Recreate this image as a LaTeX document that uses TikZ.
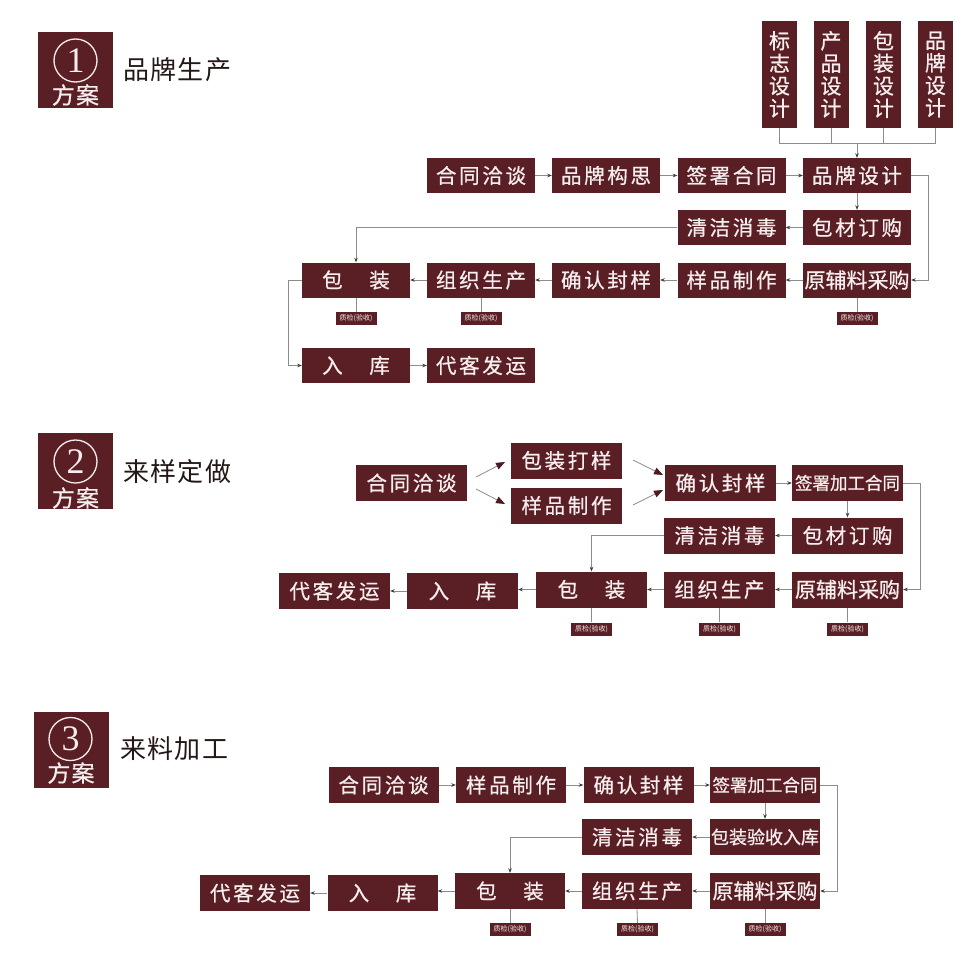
\documentclass[tikz,border=0pt]{standalone}
\usepackage{fontspec}
\setmainfont{Noto Sans CJK SC}
\newfontfamily\boxfont[LetterSpace=13,FakeBold=0.7]{Noto Sans CJK SC}
\newfontfamily\boxfontB[FakeBold=0.7]{Noto Sans CJK SC}
\newfontfamily\titlefont[LetterSpace=5]{Noto Sans CJK SC}
\newfontfamily\fafont[LetterSpace=5,FakeBold=0.7]{Noto Sans CJK SC}
\newfontfamily\numfont{Liberation Serif}
\usetikzlibrary{arrows.meta,calc}
\definecolor{boxc}{HTML}{5A1F24}
\definecolor{linec}{HTML}{8C8C8C}
\definecolor{tipc}{HTML}{3A3A3A}
\definecolor{titlec}{HTML}{231815}
\definecolor{txtc}{HTML}{F6EEEE}
\tikzset{
  box/.style={fill=boxc,text=txtc,inner sep=0pt,minimum width=108pt,minimum height=35pt,font=\boxfont\fontsize{20.5}{22}\selectfont},
  wide2/.style={minimum width=111pt,minimum height=36pt},
  wide3/.style={minimum width=110pt,minimum height=36pt},
  tight/.style={font=\boxfontB\fontsize{21}{22}\selectfont},
  six/.style={font=\boxfontB\fontsize{17.5}{19}\selectfont},
  qc/.style={fill=boxc,text=txtc,minimum width=41pt,minimum height=13pt,inner sep=0pt,font=\fontsize{7}{7}\selectfont},
  vbox/.style={fill=boxc,text=txtc,minimum width=35pt,minimum height=107pt,inner sep=0pt,align=center,font=\boxfontB\fontsize{21}{22.5}\selectfont},
  badge/.style={fill=boxc,minimum width=75pt,minimum height=76pt,inner sep=0pt},
  ring/.style={circle,draw=txtc,line width=1.3pt,minimum size=43pt,inner sep=0pt,text=txtc,font=\numfont\fontsize{36}{36}\selectfont},
  fangan/.style={text=txtc,inner sep=0pt,font=\fafont\fontsize{23}{23}\selectfont},
  title/.style={anchor=west,text=titlec,inner sep=0pt,font=\titlefont\fontsize{26}{26}\selectfont},
  conn/.style={draw=linec,line width=0.8pt,-{Stealth[length=4.5pt,width=3.5pt,color=tipc]}},
  plain/.style={draw=linec,line width=0.8pt},
  bigarrow/.style={draw=linec,line width=0.8pt,-{Triangle[length=9pt,width=7pt,color=boxc!85!black]}}
}
\begin{document}
\begin{tikzpicture}[x=1pt,y=-1pt]
\useasboundingbox (0,0) rectangle (970,964);
\fill[white] (0,0) rectangle (970,964);

% ================= Scheme 1 =================
\node[badge] (b1) at (75.5,70) {};
\node[ring] (r1) at (75.5,60.5) {1};
\node[fangan] (f1) at (75.5,95) {方案};
\node[title] (t1) at (123,70) {品牌生产};

\node[vbox] (v1) at (779.5,74.5) {标\\志\\设\\计};
\node[vbox] (v2) at (831,74.5) {产\\品\\设\\计};
\node[vbox] (v3) at (883.5,74.5) {包\\装\\设\\计};
\node[vbox] (v4) at (935.5,74.5) {品\\牌\\设\\计};
\coordinate (bar1) at (857,143);

\node[box] (a1) at (481,175.5) {合同洽谈};
\node[box] (a2) at (606,175.5) {品牌构思};
\node[box] (a3) at (731.5,175.5) {签署合同};
\node[box] (a4) at (857,175.5) {品牌设计};
\node[box] (a5) at (857,227.5) {包材订购};
\node[box] (a6) at (731.5,227.5) {清洁消毒};
\node[box,tight] (a7) at (857,280) {原辅料采购};
\node[box] (a8) at (731.5,280) {样品制作};
\node[box] (a9) at (606,280) {确认封样};
\node[box] (a10) at (481,280) {组织生产};
\node[box] (a11) at (356,280) {包\hspace{1.3em}装};
\node[box] (a12) at (356,365.5) {入\hspace{1.3em}库};
\node[box] (a13) at (481,365.5) {代客发运};
\node[qc] (q1) at (356,318.5) {质检(验收)};
\node[qc] (q2) at (481,318.5) {质检(验收)};
\node[qc] (q3) at (857,318.5) {质检(验收)};

\draw[plain] (v1.south) |- (v4.south |- bar1) -- (v4.south);
\draw[plain] (v2.south) -- (v2.south |- bar1);
\draw[plain] (v3.south) -- (v3.south |- bar1);
\draw[conn] (bar1) -- (a4.north);
\draw[conn] (a1) -- (a2);
\draw[conn] (a2) -- (a3);
\draw[conn] (a3) -- (a4);
\draw[conn] (a4) -- (a5);
\draw[conn] (a5) -- (a6);
\draw[conn] (a6.west) -| (a11.north);
\draw[conn] (a4.east) -- ++(17,0) |- (a7.east);
\draw[conn] (a7) -- (a8);
\draw[conn] (a8) -- (a9);
\draw[conn] (a9) -- (a10);
\draw[conn] (a10) -- (a11);
\draw[conn] (a11.west) -- ++(-13,0) |- (a12.west);
\draw[conn] (a12) -- (a13);
\draw[plain] (a11.south) -- (q1.north);
\draw[plain] (a10.south) -- (q2.north);
\draw[plain] (a7.south) -- (q3.north);

% ================= Scheme 2 =================
\node[badge] (b2) at (75.5,471) {};
\node[ring] (r2) at (75.5,461.5) {2};
\node[fangan] (f2) at (75.5,498) {方案};
\node[title] (t2) at (123,472) {来样定做};

\node[box,wide2] (c1) at (411.5,483) {合同洽谈};
\node[box,wide2] (c2) at (566.5,460.5) {包装打样};
\node[box,wide2] (c3) at (566.5,505.5) {样品制作};
\node[box,wide2] (c4) at (720.5,483) {确认封样};
\node[box,wide2,six] (c5) at (847.5,483) {签署加工合同};
\node[box,wide2] (c6) at (847.5,535.5) {包材订购};
\node[box,wide2] (c7) at (719.5,535.5) {清洁消毒};
\node[box,wide2,tight] (c8) at (847.5,589.5) {原辅料采购};
\node[box,wide2] (c9) at (719.5,589.5) {组织生产};
\node[box,wide2] (c10) at (591.5,589.5) {包\hspace{1.3em}装};
\node[box,wide2] (c11) at (462.5,591) {入\hspace{1.3em}库};
\node[box,wide2] (c12) at (334.5,591) {代客发运};
\node[qc] (p1) at (591.5,629) {质检(验收)};
\node[qc] (p2) at (719.5,629) {质检(验收)};
\node[qc] (p3) at (847.5,629) {质检(验收)};

\coordinate (d1s) at (476,477);
\coordinate (d1e) at (505,462);
\coordinate (d2s) at (476,489);
\coordinate (d2e) at (505,504);
\coordinate (d3s) at (633,460);
\coordinate (d3e) at (663,475);
\coordinate (d4s) at (633,505);
\coordinate (d4e) at (663,490);
\draw[bigarrow] (d1s) -- (d1e);
\draw[bigarrow] (d2s) -- (d2e);
\draw[bigarrow] (d3s) -- (d3e);
\draw[bigarrow] (d4s) -- (d4e);

\draw[conn] (c4) -- (c5);
\draw[conn] (c5) -- (c6);
\draw[conn] (c6) -- (c7);
\draw[conn] (c7.west) -| (c10.north);
\draw[conn] (c5.east) -- ++(17,0) |- (c8.east);
\draw[conn] (c8) -- (c9);
\draw[conn] (c9) -- (c10);
\draw[conn] (c10.west) -- (c11.east |- c10.west);
\draw[conn] (c11) -- (c12);
\draw[plain] (c10.south) -- (p1.north);
\draw[plain] (c9.south) -- (p2.north);
\draw[plain] (c8.south) -- (p3.north);

% ================= Scheme 3 =================
\node[badge] (b3) at (71,749.5) {};
\node[ring] (r3) at (70.5,739) {3};
\node[fangan] (f3) at (71,773) {方案};
\node[title] (t3) at (120,749) {来料加工};

\node[box,wide3] (e1) at (383.5,785) {合同洽谈};
\node[box,wide3] (e2) at (511,785) {样品制作};
\node[box,wide3] (e3) at (638.5,785) {确认封样};
\node[box,wide3,six] (e4) at (765,785) {签署加工合同};
\node[box,wide3,six,font=\boxfontB\fontsize{18}{19}\selectfont] (e5) at (765,837) {包装验收入库};
\node[box,wide3] (e6) at (637,837) {清洁消毒};
\node[box,wide3,tight] (e7) at (765,891) {原辅料采购};
\node[box,wide3] (e8) at (637,891) {组织生产};
\node[box,wide3] (e9) at (510,891) {包\hspace{1.3em}装};
\node[box,wide3] (e10) at (382.5,893) {入\hspace{1.3em}库};
\node[box,wide3] (e11) at (255,893) {代客发运};
\node[qc] (s1) at (510,929.5) {质检(验收)};
\node[qc] (s2) at (637.5,929.5) {质检(验收)};
\node[qc] (s3) at (765,929.5) {质检(验收)};

\draw[conn] (e1) -- (e2);
\draw[conn] (e2) -- (e3);
\draw[conn] (e3) -- (e4);
\draw[conn] (e4) -- (e5);
\draw[conn] (e5) -- (e6);
\draw[conn] (e6.west) -| (e9.north);
\draw[conn] (e4.east) -- ++(17,0) |- (e7.east);
\draw[conn] (e7) -- (e8);
\draw[conn] (e8) -- (e9);
\draw[conn] (e9.west) -- (e10.east |- e9.west);
\draw[conn] (e10) -- (e11);
\draw[plain] (e9.south) -- (s1.north);
\draw[plain] (e8.south) -- (s2.north);
\draw[plain] (e7.south) -- (s3.north);
\end{tikzpicture}
\end{document}
